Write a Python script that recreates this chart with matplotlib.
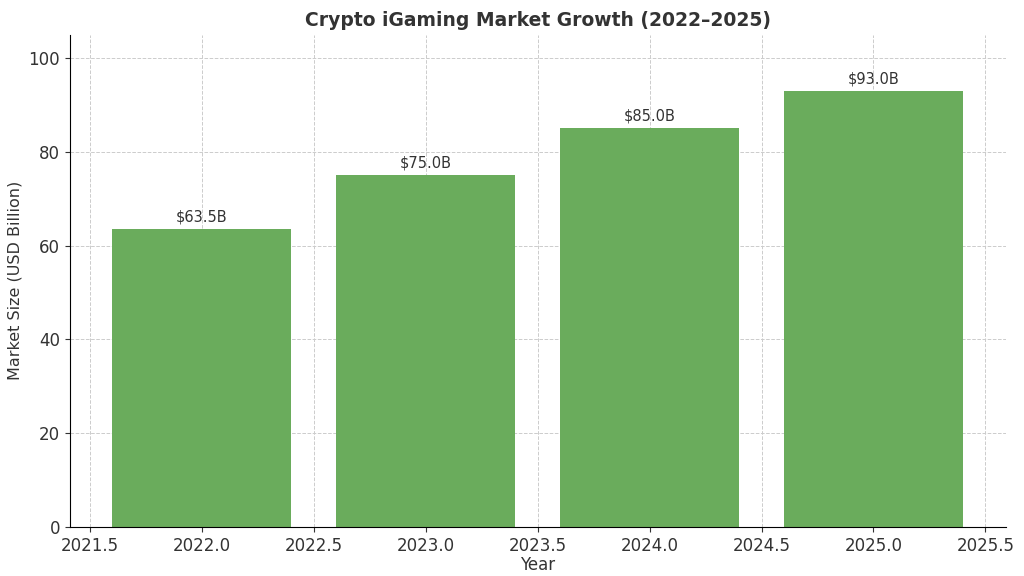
import matplotlib
matplotlib.use("Agg")
import matplotlib.pyplot as plt

years = [2022, 2023, 2024, 2025]
values = [63.5, 75.0, 85.0, 93.0]
labels = ["$63.5B", "$75.0B", "$85.0B", "$93.0B"]

fig = plt.figure(figsize=(10.24, 5.76), dpi=100)
ax = fig.add_axes([0.068, 0.085, 0.914, 0.855])
bars = ax.bar(years, values, width=0.8, color="#6aac5c", zorder=2)
for b, l in zip(bars, labels):
    ax.text(b.get_x() + b.get_width() / 2, b.get_height() + 1, l,
            ha="center", va="bottom", fontsize=10.5, color="#333333")
ax.set_ylim(0, 105)
ax.set_title("Crypto iGaming Market Growth (2022–2025)", fontsize=13.5,
             fontweight="bold", color="#333333")
ax.set_xlabel("Year", fontsize=12, color="#333333", labelpad=1)
ax.set_ylabel("Market Size (USD Billion)", fontsize=11.5, color="#333333")
ax.grid(True, linestyle="--", color="#cccccc", linewidth=0.7, zorder=0)
ax.spines["top"].set_visible(False)
ax.spines["right"].set_visible(False)
ax.tick_params(labelsize=12, colors="#333333")
fig.savefig("out.png", dpi=100)
